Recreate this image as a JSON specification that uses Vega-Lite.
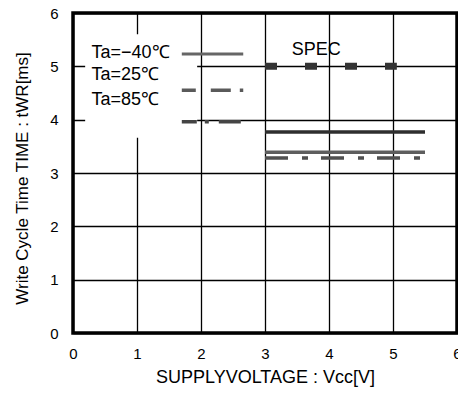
{
  "$schema": "https://vega.github.io/schema/vega-lite/v6.json",
  "width": 384,
  "height": 320,
  "autosize": {"type": "none"},
  "padding": {"left": 73, "top": 13, "right": 1, "bottom": 63},
  "background": "white",
  "config": {
    "font": "Liberation Sans",
    "view": {"stroke": "black", "strokeWidth": 3.5},
    "axis": {
      "grid": true,
      "gridColor": "black",
      "gridWidth": 1.3,
      "gridOpacity": 1,
      "ticks": false,
      "domain": false,
      "labelColor": "black",
      "titleColor": "black",
      "titleFontWeight": "normal",
      "labelFont": "Liberation Sans",
      "titleFont": "Liberation Sans"
    }
  },
  "datasets": {
    "lines": [
      {"series": "Ta=-40", "voltage": 3, "time": 3.77},
      {"series": "Ta=-40", "voltage": 5.5, "time": 3.77},
      {"series": "Ta=25", "voltage": 3, "time": 3.39},
      {"series": "Ta=25", "voltage": 5.5, "time": 3.39},
      {"series": "Ta=85", "voltage": 3, "time": 3.28},
      {"series": "Ta=85", "voltage": 5.5, "time": 3.28},
      {"series": "SPEC", "voltage": 3, "time": 5},
      {"series": "SPEC", "voltage": 5.06, "time": 5},
      {"series": "leg1", "voltage": 1.7, "time": 5.23},
      {"series": "leg1", "voltage": 2.66, "time": 5.23},
      {"series": "leg2", "voltage": 1.7, "time": 4.55},
      {"series": "leg2", "voltage": 2.66, "time": 4.55},
      {"series": "leg3", "voltage": 1.7, "time": 3.96},
      {"series": "leg3", "voltage": 2.66, "time": 3.96}
    ],
    "box": [
      {"x1": 0.19, "x2": 1.94, "y1": 5.6, "y2": 3.66}
    ],
    "labels": [
      {"label": "Ta=−40℃", "voltage": 0.29, "time": 5.25},
      {"label": "Ta=25℃", "voltage": 0.29, "time": 4.83},
      {"label": "Ta=85℃", "voltage": 0.29, "time": 4.36}
    ],
    "spec": [
      {"label": "SPEC", "voltage": 3.8, "time": 5.31}
    ]
  },
  "encoding": {
    "x": {
      "field": "voltage",
      "type": "quantitative",
      "scale": {"domain": [0, 6], "nice": false, "zero": false},
      "axis": {
        "values": [0, 1, 2, 3, 4, 5, 6],
        "title": "SUPPLYVOLTAGE : Vcc[V]",
        "titleFontSize": 18,
        "labelFontSize": 15,
        "labelPadding": 13,
        "titlePadding": 7,
        "labelFlush": false
      }
    },
    "y": {
      "field": "time",
      "type": "quantitative",
      "scale": {"domain": [0, 6], "nice": false, "zero": false},
      "axis": {
        "values": [0, 1, 2, 3, 4, 5, 6],
        "title": "Write Cycle Time TIME : tWR[ms]",
        "titleFontSize": 17,
        "titleY": 165,
        "titleAlign": "center",
        "labelFontSize": 15,
        "labelPadding": 15,
        "titlePadding": 18,
        "labelFlush": false
      }
    }
  },
  "layer": [
    {
      "data": {"name": "box"},
      "mark": {"type": "rect", "fill": "white", "stroke": null},
      "encoding": {
        "x": {"field": "x1", "type": "quantitative"},
        "x2": {"field": "x2"},
        "y": {"field": "y1", "type": "quantitative"},
        "y2": {"field": "y2"}
      }
    },
    {
      "data": {"name": "lines"},
      "transform": [{"filter": "datum.series === 'Ta=-40'"}],
      "mark": {"type": "line", "color": "#2e2e2e", "strokeWidth": 3.5, "strokeCap": "butt"}
    },
    {
      "data": {"name": "lines"},
      "transform": [{"filter": "datum.series === 'Ta=25'"}],
      "mark": {"type": "line", "color": "#5e5e5e", "strokeWidth": 3.5, "strokeCap": "butt"}
    },
    {
      "data": {"name": "lines"},
      "transform": [{"filter": "datum.series === 'Ta=85'"}],
      "mark": {"type": "line", "color": "#505050", "strokeWidth": 3.5, "strokeCap": "butt", "strokeDash": [23, 14, 6, 13]}
    },
    {
      "data": {"name": "lines"},
      "transform": [{"filter": "datum.series === 'SPEC'"}],
      "mark": {"type": "line", "color": "#333333", "strokeWidth": 7, "strokeCap": "butt", "strokeDash": [12, 28]}
    },
    {
      "data": {"name": "lines"},
      "transform": [{"filter": "datum.series === 'leg1'"}],
      "mark": {"type": "line", "color": "#666666", "strokeWidth": 3, "strokeCap": "butt"}
    },
    {
      "data": {"name": "lines"},
      "transform": [{"filter": "datum.series === 'leg2'"}],
      "mark": {"type": "line", "color": "#5a5a5a", "strokeWidth": 3.5, "strokeCap": "butt", "strokeDash": [14, 15, 20, 9, 4, 20]}
    },
    {
      "data": {"name": "lines"},
      "transform": [{"filter": "datum.series === 'leg3'"}],
      "mark": {"type": "line", "color": "#444444", "strokeWidth": 3.5, "strokeCap": "butt", "strokeDash": [15, 8, 4, 10, 22]}
    },
    {
      "data": {"name": "labels"},
      "mark": {"type": "text", "align": "left", "baseline": "middle", "fontSize": 18, "color": "black", "font": "Liberation Sans"},
      "encoding": {"text": {"field": "label"}}
    },
    {
      "data": {"name": "spec"},
      "mark": {"type": "text", "align": "center", "baseline": "middle", "fontSize": 18, "color": "black", "font": "Liberation Sans"},
      "encoding": {"text": {"field": "label"}}
    }
  ]
}
